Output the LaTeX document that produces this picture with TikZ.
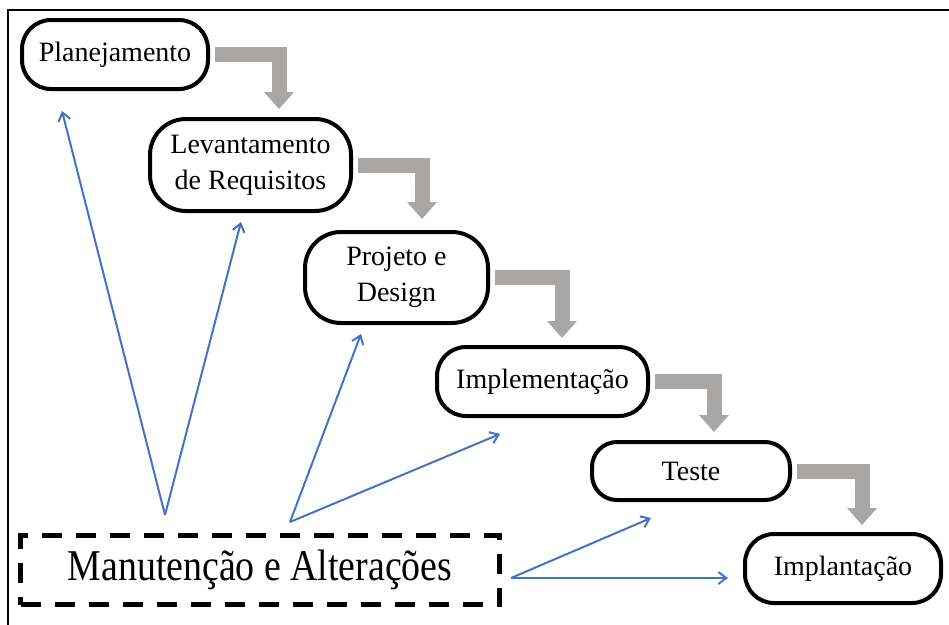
\documentclass[tikz,border=0pt]{standalone}
\usepackage{fontspec}
\setmainfont{Liberation Serif}
\usetikzlibrary{arrows.meta}
\definecolor{flowgray}{RGB}{169,166,166}
\definecolor{linkblue}{RGB}{68,114,196}
\tikzset{
  phase/.style={draw=black, line width=4pt, rounded corners=#1, fill=white,
    align=center, inner sep=0pt, font=\fontsize{28}{36}\selectfont},
  phase/.default=28pt,
  maintbox/.style={draw=black, line width=5pt, dash pattern=on 20pt off 14pt,
    inner sep=0pt, align=center},
  flowarrow/.style={draw=flowgray, line width=15pt, line join=miter,
    -{Triangle[length=17pt,width=29pt]}},
  linkarrow/.style={draw=linkblue, line width=2pt,
    -{Straight Barb[length=8pt,width=12pt]}},
}
\begin{document}
\begin{tikzpicture}[x=1pt, y=-1pt]
  \useasboundingbox (0,0) rectangle (949,624);
  % frame lines along the top and left edges
  \draw[line width=2pt] (8,626) -- (8,10) -- (951,10);

  % phases of the cascade
  \node[phase=29pt, minimum width=186pt, minimum height=69pt] (plan) at (115,54.5) {Planejamento};
  \node[phase=36pt, minimum width=201pt, minimum height=92pt] (lev) at (250.5,165) {Levantamento\\de Requisitos};
  \node[phase=36pt, minimum width=183pt, minimum height=91pt] (proj) at (396.5,277.5) {Projeto e\\Design};
  \node[phase=29pt, minimum width=211pt, minimum height=69pt] (impl) at (542.5,381.5) {Implementação};
  \node[phase=25pt, minimum width=198pt, minimum height=58pt] (test) at (691,471) {Teste};
  \node[phase=29pt, minimum width=196pt, minimum height=69pt] (depl) at (843,568.5) {Implantação};

  % maintenance box
  \node[maintbox, minimum width=479pt, minimum height=69pt] (maint) at (260,570)
    {\scalebox{0.86}[1]{\fontsize{44}{50}\selectfont Manutenção e Alterações}};

  % tips of the gray step arrows
  \coordinate (t1) at (279,109);
  \coordinate (t2) at (422,219);
  \coordinate (t3) at (562,338);
  \coordinate (t4) at (714,432);
  \coordinate (t5) at (862,525);
  \draw[flowarrow] ([xshift=5pt]plan.east) -| (t1);
  \draw[flowarrow] ([xshift=5pt]lev.east)  -| (t2);
  \draw[flowarrow] ([xshift=5pt]proj.east) -| (t3);
  \draw[flowarrow] ([xshift=5pt]impl.east) -| (t4);
  \draw[flowarrow] ([xshift=5pt]test.east) -| (t5);

  % feedback from maintenance to the phases
  \coordinate (s1) at (165,515);
  \coordinate (s2) at (290,522);
  \coordinate (s3) at (511,578);
  \coordinate (e1) at (62,111);
  \coordinate (e2) at (241,222);
  \coordinate (e3) at (361,334);
  \coordinate (e4) at (500,434);
  \coordinate (e5) at (651,518);
  \coordinate (e6) at (728,578);
  \draw[linkarrow] (s1) -- (e1);
  \draw[linkarrow] (s1) -- (e2);
  \draw[linkarrow] (s2) -- (e3);
  \draw[linkarrow] (s2) -- (e4);
  \draw[linkarrow] (s3) -- (e5);
  \draw[linkarrow] (s3) -- (e6);
\end{tikzpicture}
\end{document}
